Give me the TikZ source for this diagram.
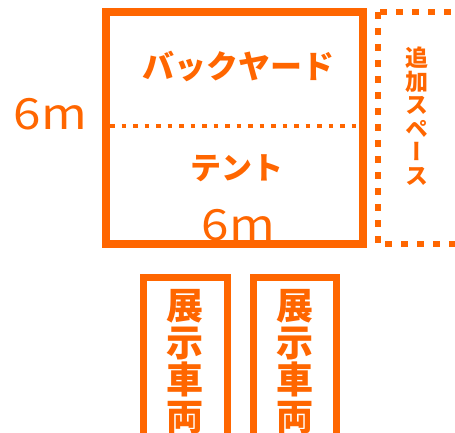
\documentclass[tikz,border=0pt]{standalone}
\usepackage{fontspec}
\setmainfont{Noto Sans CJK JP}
\newfontfamily\jpvert[RawFeature=+vert]{Noto Sans CJK JP}
\definecolor{boothorange}{HTML}{FF6600}
\tikzset{
  wall/.style={draw=boothorange,line width=8pt},
  dotline/.style={draw=boothorange,line width=4.5pt,dash pattern=on 4.5pt off 7pt},
  extraline/.style={draw=boothorange,line width=6.5pt,dash pattern=on 7pt off 9pt},
  label/.style={text=boothorange,inner sep=0pt},
  sizelabel/.style={label,anchor=base,font=\fontsize{43}{43}\selectfont}
}
\begin{document}
\begin{tikzpicture}[x=1pt,y=-1pt]
\useasboundingbox (0,0) rectangle (455,433);
\clip (0,0) rectangle (455,433);
% tent and back yard
\draw [wall] (106,12) rectangle (363,244);
\draw [dotline] (110,126) -- (359,126);
% extra space, open to the right
\draw [extraline] (378,12) -- (378,244);
\draw [extraline] (380,12) -- (470,12);
\draw [extraline] (385,244) -- (470,244);
\node [label,font=\bfseries\fontsize{32}{32}\selectfont] (backyard) at (238,66) {バックヤード};
\node [label,font=\bfseries\fontsize{31}{31}\selectfont] (tent) at (237,168) {テント};
\node [sizelabel] (depth) at (50.5,130) {\scalebox{1.15}[1]{6m}};
\node [sizelabel] (width) at (238.5,240) {\scalebox{1.15}[1]{6m}};
\node [label,anchor=north,align=center,font=\jpvert\bfseries\fontsize{23}{23.5}\selectfont] (extra) at (417,47) {追\\加\\ス\\ペ\\ー\\ス};
% display cars
\foreach \x/\n in {143.5/carA,253/carB}{
\draw [wall,line width=7pt] (\x,277) rectangle ++(83.5,200);
\node [label,anchor=north,align=center,font=\bfseries\fontsize{37}{37}\selectfont] (\n) at (\x+41.75,289) {展\\示\\車\\両};
}
\end{tikzpicture}
\end{document}
